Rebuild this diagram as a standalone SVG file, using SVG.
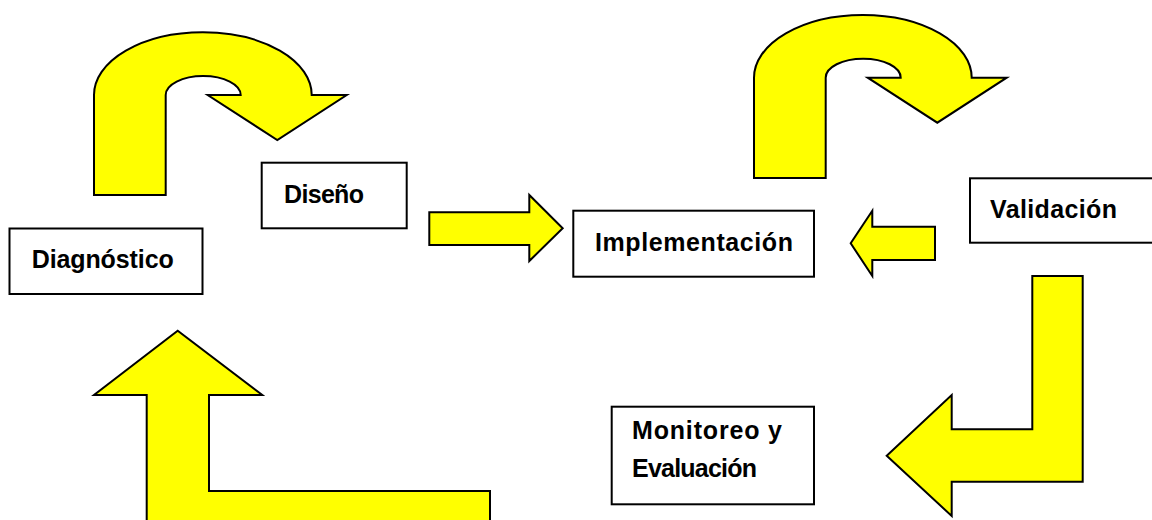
<svg xmlns="http://www.w3.org/2000/svg" width="1152" height="520" viewBox="0 0 1152 520">
  <style>
    .arrow { fill: #ffff00; stroke: #000000; stroke-width: 2; stroke-linejoin: miter; }
    .box { fill: #ffffff; stroke: #000000; stroke-width: 2; }
    .label { font-family: "Comic Sans MS", "Liberation Sans", sans-serif; font-weight: bold; font-size: 25px; fill: #000000; }
  </style>
  <rect x="0" y="0" width="1152" height="520" fill="#ffffff"/>
  <g id="connectors">
    <path class="arrow" d="M94,195 L94,95 A108.8,62.7 0 0 1 311.7,95 L346.7,95 L277.3,140 L207.7,95 L240.7,95 A37.5,19 0 0 0 165.7,95 L165.7,195 Z"/>
    <path class="arrow" d="M754,178 L754,77.7 A108.8,62.7 0 0 1 971.7,77.7 L1006.7,77.7 L937.3,122.7 L867.7,77.7 L900.7,77.7 A37.5,19 0 0 0 825.7,77.7 L825.7,178 Z"/>
    <path class="arrow" d="M429.3,212.3 L529.3,212.3 L529.3,195 L562.7,228.3 L529.3,261 L529.3,245 L429.3,245 Z"/>
    <path class="arrow" d="M935,226.7 L872.3,226.7 L872.3,210.7 L850.7,243.3 L872.3,276 L872.3,260 L935,260 Z"/>
    <path class="arrow" d="M1032.3,276 L1082.7,276 L1082.7,481.7 L951.7,481.7 L951.7,516 L886.7,455.7 L951.7,395 L951.7,429.3 L1032.3,429.3 Z"/>
    <path class="arrow" d="M146.7,530 L146.7,395 L94,395 L177.7,330.7 L262.3,395 L209,395 L209,491 L490,491 L490,530 Z"/>
  </g>
  <g id="node-diagnostico">
    <rect class="box" x="9.5" y="228.5" width="193" height="65.5"/>
    <text class="label" x="31.7" y="268" textLength="142">Diagnóstico</text>
  </g>
  <g id="node-diseno">
    <rect class="box" x="261.7" y="162.7" width="145" height="65.6"/>
    <text class="label" x="284" y="203" textLength="80">Diseño</text>
  </g>
  <g id="node-implementacion">
    <rect class="box" x="573.3" y="210.7" width="240.7" height="66"/>
    <text class="label" x="595" y="251" textLength="198">Implementación</text>
  </g>
  <g id="node-validacion">
    <rect class="box" x="970" y="178.3" width="200" height="64.4"/>
    <text class="label" x="990" y="218" textLength="127">Validación</text>
  </g>
  <g id="node-monitoreo">
    <rect class="box" x="611.7" y="406.7" width="202.3" height="97.6"/>
    <text class="label" x="632" y="439" textLength="150">Monitoreo y</text>
    <text class="label" x="632" y="477" textLength="125">Evaluación</text>
  </g>
</svg>
